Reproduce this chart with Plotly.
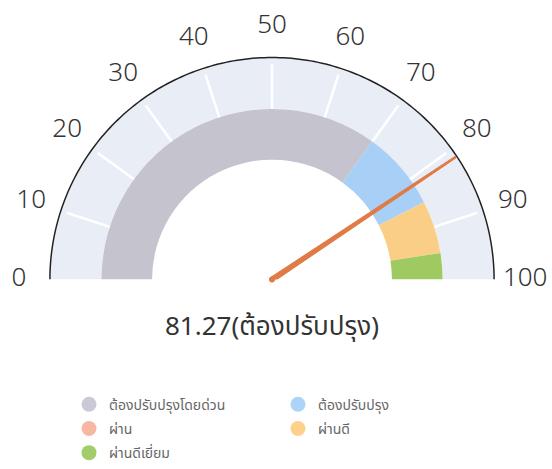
import math
import plotly.graph_objects as go

# ---------------- data ----------------
categories = ["ต้องปรับปรุงโดยด่วน", "ต้องปรับปรุง", "ผ่าน", "ผ่านดี", "ผ่านดีเยี่ยม"]
band_start = [0, 70, 85, 85, 95]
band_end = [70, 85, 85, 95, 100]
tick_values = [0, 10, 20, 30, 40, 50, 60, 70, 80, 90, 100]
tick_labels = ["0", "10", "20", "30", "40", "50", "60", "70", "80", "90", "100"]
score = 81.27
score_label = "ต้องปรับปรุง"
gauge_min = 0
gauge_max = 100

# ---------------- style ----------------
band_colors = ["#c5c4ce", "#a8cff5", "#f4b49c", "#fbce88", "#9fca62"]
legend_colors = ["#cacad6", "#acd4fa", "#f6b8a2", "#fdd08c", "#a3cd6c"]
legend_ids = ["legend", "legend2", "legend", "legend2", "legend"]
track_color = "#e9eef6"
needle_color = "#e07b45"
R_IN, R_MID, R_TICK, R_OUT, R_LABEL, R_MAX = 0.54, 0.768, 0.97, 1.0, 1.14, 1.16
FONT = "Noto Sans, Noto Sans Thai, Loma, sans-serif"

CX, CY, RPX = 272, 282, 224  # gauge centre / outer radius in pixels


def deg(v):
    return (v - gauge_min) / (gauge_max - gauge_min) * 180.0


fig = go.Figure()

# outer light track
fig.add_trace(go.Barpolar(
    theta=[deg((gauge_min + gauge_max) / 2)], width=[deg(gauge_max) - deg(gauge_min)],
    base=[R_MID], r=[R_OUT - R_MID], marker=dict(color=track_color, line=dict(width=0)),
    showlegend=False, hoverinfo="skip"))

# colored bands
for name, s, e, c in zip(categories, band_start, band_end, band_colors):
    if e <= s:
        continue
    fig.add_trace(go.Barpolar(
        theta=[deg((s + e) / 2)], width=[deg(e) - deg(s)], base=[R_IN], r=[R_MID - R_IN],
        marker=dict(color=c, line=dict(width=0)), showlegend=False, hoverinfo="skip"))

# white tick separators
tr, tt = [], []
for v in tick_values[1:-1]:
    tr += [R_MID, R_TICK, None]
    tt += [deg(v), deg(v), None]
fig.add_trace(go.Scatterpolar(r=tr, theta=tt, mode="lines", line=dict(color="white", width=2.5),
                              showlegend=False, hoverinfo="skip", connectgaps=False))

# outer black arc
arc_theta = [deg(gauge_min) + i * (deg(gauge_max) - deg(gauge_min)) / 180 for i in range(181)]
fig.add_trace(go.Scatterpolar(r=[R_OUT] * len(arc_theta), theta=arc_theta, mode="lines",
                              line=dict(color="#222222", width=1.5),
                              showlegend=False, hoverinfo="skip"))

# tick labels
fig.add_trace(go.Scatterpolar(r=[R_LABEL] * len(tick_values), theta=[deg(v) for v in tick_values],
                              mode="text", text=tick_labels, textposition="middle center",
                              textfont=dict(size=26, color="#333333", family=FONT, weight=300),
                              cliponaxis=False, showlegend=False, hoverinfo="skip"))

# needle (tapered)
a = deg(score)
L = 0.995
hb, ht = 2.6 / RPX, 0.9 / RPX
pts = [(0.0, hb), (L, ht), (L, -ht), (0.0, -hb)]
nr, nt = [], []
for x, y in pts:
    nr.append(math.hypot(x, y))
    nt.append(a - math.degrees(math.atan2(y, x)))
nr.append(nr[0]); nt.append(nt[0])
fig.add_trace(go.Scatterpolar(r=nr, theta=nt, mode="lines", fill="toself",
                              fillcolor=needle_color, line=dict(color=needle_color, width=1),
                              showlegend=False, hoverinfo="skip"))
fig.add_trace(go.Scatterpolar(r=[0], theta=[a], mode="markers",
                              marker=dict(color=needle_color, size=6), showlegend=False, hoverinfo="skip"))

# legend entries
for i, (name, c, lg) in enumerate(zip(categories, legend_colors, legend_ids)):
    fig.add_trace(go.Scatterpolar(r=[None], theta=[None], mode="markers", name=name,
                                  marker=dict(color=c, size=15, symbol="circle"),
                                  legend=lg, legendgroup=f"g{i}", hoverinfo="skip"))

legend_common = dict(yanchor="top", xanchor="left", bgcolor="rgba(0,0,0,0)",
                     font=dict(size=14, color="#666666", family=FONT),
                     tracegroupgap=3, itemclick=False, itemdoubleclick=False)

W, H = 552, 469
rmax_px = RPX * R_MAX
fig.update_layout(
    width=W, height=H,
    margin=dict(l=0, r=0, t=0, b=0),
    paper_bgcolor="white",
    font=dict(family=FONT, color="#333333"),
    polar=dict(
        domain=dict(x=[(CX - rmax_px) / W, (CX + rmax_px) / W],
                    y=[1 - CY / H, 1 - (CY - rmax_px) / H]),
        sector=[0, 180],
        bgcolor="rgba(0,0,0,0)",
        radialaxis=dict(visible=False, range=[0, R_MAX]),
        angularaxis=dict(
            rotation=180, direction="clockwise",
            showticklabels=False, ticks="",
            showgrid=False, showline=False,
        ),
    ),
    legend=dict(x=69 / W, y=1 - 392 / H, **legend_common),
    legend2=dict(x=278 / W, y=1 - 392 / H, **legend_common),
    annotations=[dict(
        x=CX / W, y=1 - 328 / H, xref="paper", yref="paper", showarrow=False,
        text=f"{score:.2f}({score_label})", font=dict(size=26, color="#333333", family=FONT),
        xanchor="center", yanchor="middle")],
)

fig.write_html("out.html", config={"displayModeBar": False},
               post_script="document.body.style.margin='0';")
